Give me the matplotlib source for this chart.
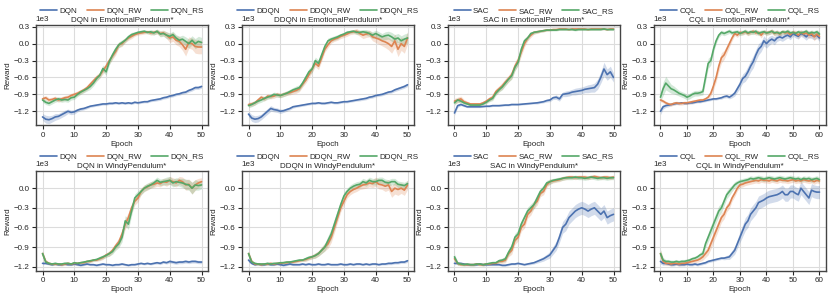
import numpy as np
import matplotlib.pyplot as plt
import matplotlib.font_manager as fm
import seaborn as sns

# drop the narrow Liberation variant so "Liberation Sans" resolves to the regular width
fm.fontManager.ttflist = [f for f in fm.fontManager.ttflist if 'Narrow' not in f.fname]
try:
    fm.fontManager._findfont_cached.cache_clear()
except AttributeError:
    pass

sns.set_theme(style="ticks")
plt.rcParams['font.family'] = ['Liberation Sans', 'DejaVu Sans']

# ---- EmotionalPendulum* (mean / std of reward per epoch) ----
dqn_emo = [-1300,-1340,-1350,-1330,-1300,-1290,-1260,-1230,-1200,-1220,-1210,-1180,-1160,-1150,-1130,-1110,-1100,-1090,-1080,-1070,-1070,-1060,-1060,-1050,-1060,-1050,-1060,-1050,-1060,-1040,-1050,-1040,-1030,-1030,-1010,-1000,-990,-980,-960,-950,-930,-920,-900,-890,-870,-860,-830,-810,-780,-780,-760]
dqn_emo_sd = [60,70,70,60,60,50,50,50,40,40,40,30,30,25,25,20,20,20,20,20,20,20,20,20,20,20,20,20,20,20,20,20,20,20,20,25,25,25,25,25,25,25,25,25,25,25,30,30,30,30,30]
dqn_emo_rw = [-980,-960,-1000,-990,-970,-1000,-980,-960,-950,-920,-900,-880,-850,-820,-780,-720,-660,-600,-560,-480,-400,-300,-220,-140,-20,0,60,100,130,160,180,190,200,210,190,200,210,180,190,150,100,120,60,40,-20,-100,20,0,-50,-60,-60]
dqn_emo_rw_sd = [40,40,40,40,40,40,40,40,40,40,40,40,40,40,40,50,50,50,50,60,60,60,60,60,50,50,40,40,40,30,30,30,30,30,40,40,40,50,50,60,80,80,80,90,100,120,100,100,120,120,120]
dqn_emo_rs = [-1000,-1040,-1060,-1030,-1000,-980,-1000,-990,-1000,-960,-950,-900,-860,-830,-800,-760,-700,-620,-560,-440,-500,-320,-200,-100,-20,20,60,120,160,180,200,210,220,200,210,190,220,170,180,150,130,160,100,60,80,40,0,60,0,40,20]
dqn_emo_rs_sd = [40,40,40,40,40,40,40,40,40,40,40,40,40,40,40,50,50,50,50,60,60,60,60,60,50,50,40,40,40,30,30,30,30,30,40,40,40,50,50,60,60,60,60,70,70,80,80,80,90,90,90]

ddqn_emo = [-1250,-1320,-1340,-1330,-1300,-1250,-1200,-1150,-1170,-1180,-1200,-1190,-1170,-1150,-1120,-1110,-1100,-1090,-1080,-1070,-1060,-1060,-1050,-1060,-1060,-1050,-1040,-1050,-1050,-1040,-1030,-1030,-1020,-1010,-1000,-990,-980,-970,-950,-940,-920,-910,-900,-880,-860,-850,-820,-800,-780,-760,-730]
ddqn_emo_sd = [50,60,60,60,50,50,50,50,40,40,40,30,30,25,25,20,20,20,20,20,20,20,20,20,20,20,20,20,20,20,20,20,20,20,20,25,25,25,25,25,25,25,25,25,25,25,30,30,30,30,30]
ddqn_emo_rw = [-1080,-1070,-1050,-1000,-950,-980,-930,-940,-930,-900,-920,-900,-880,-870,-850,-830,-800,-720,-650,-550,-450,-350,-400,-250,-100,-20,50,80,100,130,150,170,200,210,220,180,150,170,180,120,100,80,50,30,0,-50,50,-100,0,-50,100]
ddqn_emo_rw_sd = [40,40,40,40,40,40,40,40,40,40,40,40,40,40,40,50,50,50,50,60,60,60,60,60,50,50,40,40,40,40,40,40,40,40,50,50,60,60,60,70,80,90,90,100,110,120,120,130,120,120,110]
ddqn_emo_rs = [-1100,-1080,-1050,-1020,-1000,-970,-950,-930,-900,-910,-920,-900,-880,-850,-820,-800,-780,-700,-600,-500,-450,-300,-350,-200,-50,50,80,100,120,150,170,200,210,220,200,200,210,200,180,150,180,150,120,140,150,120,80,100,50,80,100]
ddqn_emo_rs_sd = [40,40,40,40,40,40,40,40,40,40,40,40,40,40,40,50,50,50,50,60,60,60,60,60,50,50,40,40,40,30,30,30,30,30,40,40,40,50,50,60,60,60,60,70,70,80,80,80,90,90,90]

sac_emo = [-1230,-1100,-1080,-1100,-1120,-1120,-1120,-1120,-1120,-1115,-1110,-1110,-1100,-1100,-1100,-1095,-1090,-1090,-1080,-1080,-1080,-1075,-1070,-1065,-1060,-1055,-1050,-1040,-1030,-1010,-1000,-960,-950,-980,-900,-890,-880,-860,-850,-840,-830,-810,-800,-790,-780,-720,-600,-450,-550,-500,-600]
sac_emo_sd = [40,30,20,20,15,15,15,15,15,15,15,15,15,15,15,15,15,15,15,15,15,15,15,15,15,15,20,20,20,25,30,30,40,40,40,50,50,50,60,60,60,60,70,70,80,90,100,120,100,100,80]
sac_emo_rw = [-1020,-1000,-980,-1030,-1050,-1070,-1070,-1070,-1070,-1050,-1020,-980,-950,-850,-800,-750,-680,-620,-550,-400,-300,-150,0,100,150,200,210,220,230,240,240,250,250,260,260,260,250,260,260,260,260,260,250,260,260,260,260,260,250,260,260]
sac_emo_rw_sd = [50,50,50,40,30,20,20,20,20,30,30,40,40,50,50,60,60,60,70,80,80,70,60,50,40,30,30,20,20,20,15,15,15,15,15,15,15,15,15,15,15,15,15,15,15,15,15,15,15,15,15]
sac_emo_rs = [-1050,-1000,-1020,-1050,-1070,-1090,-1090,-1090,-1090,-1070,-1040,-1000,-970,-880,-820,-770,-700,-630,-570,-420,-330,-100,50,100,180,200,210,220,230,240,240,240,240,250,250,250,250,250,240,250,250,250,250,250,250,250,250,260,250,250,250]
sac_emo_rs_sd = [40,40,40,30,20,20,20,20,20,20,30,30,40,40,40,50,50,50,60,60,60,60,50,40,30,30,20,20,20,15,15,15,15,15,15,15,15,15,15,15,15,15,15,15,15,15,15,15,15,15,15]

cql_emo = [-1200,-1120,-1100,-1090,-1080,-1070,-1060,-1060,-1050,-1060,-1060,-1050,-1050,-1040,-1030,-1030,-1020,-1010,-1000,-990,-980,-980,-970,-960,-940,-930,-950,-920,-880,-800,-720,-620,-580,-500,-400,-320,-200,-100,-50,50,0,50,80,50,100,120,100,130,150,120,180,150,130,180,160,120,170,150,130,150,100]
cql_emo_sd = [60,40,30,30,20,20,20,20,20,20,20,20,20,20,20,20,20,20,20,20,20,20,20,25,25,30,30,40,50,60,70,80,90,100,100,110,100,100,90,90,80,80,70,70,60,60,60,60,50,50,50,50,50,50,60,60,60,60,60,60,60]
cql_emo_rw = [-1000,-1020,-1050,-1070,-1080,-1060,-1050,-1060,-1060,-1050,-1050,-1040,-1030,-1020,-1010,-1000,-1000,-980,-950,-880,-750,-600,-400,-250,-200,-100,0,100,180,150,200,190,210,180,200,220,190,200,150,210,190,200,220,180,200,170,210,190,200,160,200,190,150,200,170,190,150,180,120,170,130]
cql_emo_rw_sd = [30,30,30,30,30,30,30,30,30,30,30,30,30,30,30,30,30,30,40,50,70,80,90,90,80,70,60,50,40,40,40,40,40,40,40,40,40,40,50,40,40,40,40,50,40,50,40,40,50,50,40,50,60,50,50,60,60,60,70,60,60]
cql_emo_rs = [-950,-800,-700,-750,-800,-820,-850,-880,-900,-920,-950,-930,-900,-880,-880,-870,-850,-600,-350,-300,-100,50,150,200,180,200,220,190,200,210,180,200,220,190,210,200,220,180,200,210,190,200,220,190,200,180,210,200,220,190,200,180,210,190,200,220,180,200,190,210,170]
cql_emo_rs_sd = [80,120,120,100,80,70,60,50,50,50,50,50,50,50,50,50,60,80,90,80,60,50,40,40,40,40,40,40,40,40,40,40,40,40,40,40,40,40,40,40,40,40,40,40,40,40,40,40,40,40,40,40,40,40,40,40,40,40,40,40,40]

# ---- WindyPendulum* ----
dqn_wind = [-1150,-1150,-1160,-1170,-1160,-1170,-1170,-1160,-1170,-1170,-1160,-1170,-1180,-1170,-1160,-1170,-1170,-1180,-1170,-1160,-1170,-1170,-1180,-1170,-1170,-1160,-1170,-1180,-1170,-1170,-1160,-1150,-1160,-1150,-1160,-1150,-1140,-1150,-1130,-1140,-1120,-1130,-1140,-1130,-1130,-1120,-1130,-1120,-1120,-1130,-1130]
dqn_wind_sd = [20,15,15,15,15,15,15,15,15,15,15,15,15,15,15,15,15,15,15,15,15,15,15,15,15,15,15,15,15,15,15,15,15,15,15,15,20,20,20,20,25,25,25,25,25,25,25,25,25,25,25]
dqn_wind_rw = [-1000,-1120,-1150,-1160,-1160,-1160,-1170,-1160,-1150,-1160,-1150,-1150,-1140,-1140,-1120,-1120,-1100,-1100,-1080,-1060,-1020,-1000,-950,-880,-820,-700,-550,-450,-300,-200,-150,-50,0,20,50,60,80,70,100,90,120,100,80,120,100,50,60,0,50,80,100]
dqn_wind_rw_sd = [40,30,20,20,20,20,20,20,20,20,20,20,20,20,20,20,20,20,30,30,30,40,40,50,60,70,80,80,70,60,60,50,50,50,50,50,50,50,50,60,60,60,60,60,70,80,80,90,80,70,60]
dqn_wind_rs = [-1000,-1130,-1150,-1160,-1150,-1160,-1160,-1150,-1150,-1160,-1140,-1150,-1140,-1130,-1120,-1110,-1100,-1090,-1070,-1050,-1030,-1000,-970,-900,-850,-750,-500,-550,-350,-150,-100,-50,0,30,50,80,120,90,100,110,120,80,100,90,80,60,50,0,50,40,50]
dqn_wind_rs_sd = [40,30,20,20,20,20,20,20,20,20,20,20,20,20,20,20,20,20,30,30,30,40,40,50,60,70,80,80,70,60,60,50,50,50,50,50,50,50,50,60,60,60,60,60,70,80,80,90,80,70,60]

ddqn_wind = [-1100,-1150,-1170,-1160,-1170,-1170,-1160,-1170,-1170,-1160,-1170,-1180,-1170,-1160,-1170,-1170,-1170,-1160,-1170,-1160,-1170,-1170,-1160,-1170,-1170,-1160,-1170,-1170,-1170,-1160,-1170,-1170,-1160,-1170,-1160,-1160,-1170,-1160,-1170,-1160,-1160,-1170,-1160,-1160,-1150,-1150,-1140,-1140,-1130,-1130,-1110]
ddqn_wind_sd = [30,15,15,15,15,15,15,15,15,15,15,15,15,15,15,15,15,15,15,15,15,15,15,15,15,15,15,15,15,15,15,15,15,15,15,15,15,15,15,15,15,15,15,15,20,20,20,20,20,20,25]
ddqn_wind_rw = [-1000,-1120,-1160,-1160,-1170,-1160,-1160,-1150,-1160,-1150,-1150,-1140,-1140,-1130,-1130,-1120,-1110,-1100,-1090,-1070,-1050,-1030,-1000,-950,-900,-850,-750,-600,-450,-300,-200,-100,-50,-20,0,30,50,60,80,70,100,60,50,30,50,-50,0,-20,0,-30,50]
ddqn_wind_rw_sd = [40,30,20,20,20,20,20,20,20,20,20,20,20,20,20,20,20,20,30,30,30,40,40,50,60,70,80,80,70,60,60,50,50,50,50,50,60,60,60,60,70,70,70,80,80,90,90,90,80,80,70]
ddqn_wind_rs = [-1000,-1130,-1150,-1160,-1160,-1160,-1150,-1160,-1150,-1150,-1140,-1140,-1130,-1130,-1120,-1110,-1100,-1100,-1080,-1060,-1050,-1030,-1000,-950,-900,-800,-700,-550,-400,-250,-120,-50,0,30,50,60,100,80,120,100,100,120,120,90,80,100,100,60,50,40,70]
ddqn_wind_rs_sd = [40,30,20,20,20,20,20,20,20,20,20,20,20,20,20,20,20,20,30,30,30,40,40,50,60,70,80,80,70,60,60,50,50,50,50,50,50,50,50,50,50,50,50,50,50,50,50,50,50,50,50]

sac_wind = [-1150,-1150,-1150,-1160,-1170,-1170,-1170,-1170,-1160,-1170,-1170,-1170,-1170,-1170,-1170,-1180,-1180,-1170,-1160,-1160,-1150,-1160,-1170,-1160,-1150,-1140,-1120,-1100,-1080,-1050,-1020,-950,-880,-750,-600,-550,-450,-400,-350,-320,-300,-320,-350,-320,-300,-350,-400,-350,-450,-420,-400]
sac_wind_sd = [20,15,15,15,15,15,15,15,15,15,15,15,15,15,15,15,15,15,15,15,15,15,15,15,20,20,25,30,35,40,50,60,70,80,90,100,100,100,100,100,100,100,100,100,100,100,100,100,100,100,100]
sac_wind_rw = [-1080,-1150,-1170,-1170,-1170,-1170,-1170,-1160,-1170,-1170,-1160,-1160,-1150,-1150,-1120,-1120,-1100,-1000,-950,-800,-750,-600,-550,-400,-350,-250,-200,-80,-50,50,100,110,120,130,150,160,170,170,160,170,170,170,160,170,180,170,160,170,170,160,170]
sac_wind_rw_sd = [40,30,20,20,20,20,20,20,20,20,20,20,20,20,30,30,40,50,60,60,60,60,60,60,60,60,60,50,50,40,40,30,30,30,30,30,30,30,30,30,30,30,30,30,30,30,30,30,30,30,30]
sac_wind_rs = [-1050,-1150,-1160,-1170,-1160,-1170,-1170,-1160,-1160,-1170,-1160,-1150,-1140,-1140,-1110,-1100,-1080,-980,-900,-750,-700,-550,-450,-350,-300,-250,-150,-50,0,80,100,120,130,140,150,160,160,160,170,160,160,150,160,170,160,150,160,160,150,160,160]
sac_wind_rs_sd = [40,30,20,20,20,20,20,20,20,20,20,20,20,20,30,30,40,50,60,60,60,60,60,60,60,60,60,50,50,40,40,30,30,30,30,30,30,30,30,30,30,30,30,30,30,30,30,30,30,30,30]

cql_wind = [-1120,-1150,-1150,-1160,-1170,-1170,-1160,-1170,-1170,-1170,-1160,-1170,-1170,-1160,-1170,-1160,-1150,-1140,-1120,-1110,-1100,-1090,-1080,-1070,-1070,-1060,-1050,-1000,-950,-850,-750,-650,-550,-500,-400,-350,-300,-220,-200,-180,-150,-130,-120,-110,-100,-80,-50,-100,-100,-50,-50,-80,-100,0,-50,-100,-150,-30,-50,-60,-60]
cql_wind_sd = [40,30,20,20,20,20,20,20,20,20,20,20,20,20,20,20,20,20,20,20,20,20,20,20,25,30,40,50,60,70,80,90,100,100,100,100,100,100,100,100,100,100,100,100,100,100,100,100,100,100,100,100,100,100,100,100,100,100,100,100,100]
cql_wind_rw = [-1000,-1120,-1150,-1150,-1160,-1150,-1150,-1160,-1150,-1150,-1140,-1130,-1120,-1110,-1100,-1080,-1050,-1000,-950,-850,-750,-650,-550,-450,-400,-300,-250,-150,-80,0,50,60,80,90,100,110,120,110,130,120,120,110,130,120,110,130,120,120,110,120,130,110,120,110,130,120,110,120,100,120,110]
cql_wind_rw_sd = [60,40,30,30,30,30,30,30,30,30,30,30,30,30,30,40,50,60,70,80,80,80,80,70,70,60,60,50,50,40,40,40,40,40,40,40,40,40,40,40,40,40,40,40,40,40,40,40,40,40,40,40,40,40,40,40,40,40,40,40,40]
cql_wind_rs = [-1000,-1100,-1120,-1120,-1130,-1130,-1120,-1130,-1120,-1120,-1110,-1100,-1080,-1070,-1050,-1020,-1000,-850,-750,-650,-550,-450,-350,-300,-200,-100,-50,0,50,80,100,110,120,130,150,140,150,160,150,140,150,160,150,140,150,160,150,140,150,160,150,140,150,130,150,140,150,130,140,150,130]
cql_wind_rs_sd = [60,40,30,30,30,30,30,30,30,30,30,30,30,30,30,40,50,60,70,80,80,80,80,70,70,60,60,50,50,40,40,40,40,40,40,40,40,40,40,40,40,40,40,40,40,40,40,40,40,40,40,40,40,40,40,40,40,40,40,40,40]

algos = ["DQN", "DDQN", "SAC", "CQL"]
envs = ["EmotionalPendulum*", "WindyPendulum*"]
data = {
    ("DQN", 0): [(dqn_emo, dqn_emo_sd), (dqn_emo_rw, dqn_emo_rw_sd), (dqn_emo_rs, dqn_emo_rs_sd)],
    ("DDQN", 0): [(ddqn_emo, ddqn_emo_sd), (ddqn_emo_rw, ddqn_emo_rw_sd), (ddqn_emo_rs, ddqn_emo_rs_sd)],
    ("SAC", 0): [(sac_emo, sac_emo_sd), (sac_emo_rw, sac_emo_rw_sd), (sac_emo_rs, sac_emo_rs_sd)],
    ("CQL", 0): [(cql_emo, cql_emo_sd), (cql_emo_rw, cql_emo_rw_sd), (cql_emo_rs, cql_emo_rs_sd)],
    ("DQN", 1): [(dqn_wind, dqn_wind_sd), (dqn_wind_rw, dqn_wind_rw_sd), (dqn_wind_rs, dqn_wind_rs_sd)],
    ("DDQN", 1): [(ddqn_wind, ddqn_wind_sd), (ddqn_wind_rw, ddqn_wind_rw_sd), (ddqn_wind_rs, ddqn_wind_rs_sd)],
    ("SAC", 1): [(sac_wind, sac_wind_sd), (sac_wind_rw, sac_wind_rw_sd), (sac_wind_rs, sac_wind_rs_sd)],
    ("CQL", 1): [(cql_wind, cql_wind_sd), (cql_wind_rw, cql_wind_rw_sd), (cql_wind_rs, cql_wind_rs_sd)],
}
colors = ["#4C72B0", "#DD8452", "#55A868"]
suffix = ["", "_RW", "_RS"]

fs = 5.8
fig, axes = plt.subplots(2, 4, figsize=(8.3, 2.98), dpi=100)
fig.subplots_adjust(left=0.043, right=0.995, top=0.916, bottom=0.091, wspace=0.196, hspace=0.45)

for r, env in enumerate(envs):
    for c, algo in enumerate(algos):
        ax = axes[r, c]
        for k, (m, s) in enumerate(data[(algo, r)]):
            m = np.array(m, dtype=float)
            s = np.array(s, dtype=float)
            x = np.arange(len(m))
            ax.plot(x, m, color=colors[k], lw=1.2, label=algo + suffix[k])
            ax.fill_between(x, m - s, m + s, color=colors[k], alpha=0.25, lw=0)
        n = len(data[(algo, r)][0][0]) - 1
        ax.set_xlim(-0.043 * n, n * 1.04)
        if r == 0:
            ax.set_ylim(-1450, 330)
            ax.set_yticks([-1200, -900, -600, -300, 0, 300])
        else:
            ax.set_ylim(-1265, 270)
            ax.set_yticks([-1200, -900, -600, -300, 0])
        ax.set_xticks(np.arange(0, n + 1, 10))
        ax.ticklabel_format(axis='y', style='sci', scilimits=(3, 3))
        ax.yaxis.get_offset_text().set_fontsize(fs)
        ax.tick_params(labelsize=fs, length=3, width=0.8, pad=1.5)
        ax.grid(True, color="#dcdcdc", lw=0.8)
        for sp in ax.spines.values():
            sp.set_color("#444444")
            sp.set_linewidth(1.0)
        ax.set_xlabel("Epoch", fontsize=fs, labelpad=1.5)
        ax.set_ylabel("Reward", fontsize=fs, labelpad=1.5)
        ax.set_title(f"{algo} in {env}", fontsize=fs, pad=2)
        ax.legend(loc="lower center", bbox_to_anchor=(0.5, 1.09), ncol=3, frameon=False,
                  fontsize=fs, handlelength=2.1, columnspacing=1.2, borderaxespad=0,
                  handletextpad=0.3, borderpad=0.1)

fig.savefig("out.png", dpi=100)
